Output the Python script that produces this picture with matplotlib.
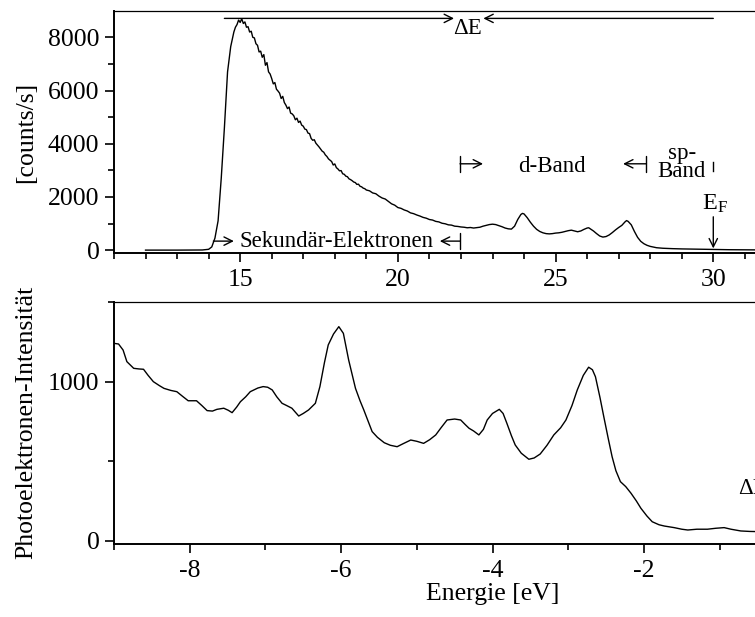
"""
Photoelectron spectrum: raw counts vs. kinetic energy (top) and the
valence band region referred to the Fermi level (bottom).
"""

import numpy as np
import matplotlib
matplotlib.use("Agg")
import matplotlib.pyplot as plt
from matplotlib.ticker import MultipleLocator

plt.rcParams["font.family"] = ["Liberation Serif", "DejaVu Serif"]
plt.rcParams["mathtext.fontset"] = "custom"
plt.rcParams["mathtext.rm"] = "Liberation Serif"
plt.rcParams["axes.unicode_minus"] = False

# ---------------------------------------------------------------------------
# Data
# ---------------------------------------------------------------------------
# full spectrum, kinetic energy (eV) vs counts/s
kin_energy = [
    12.0, 13.0, 13.8, 14.0, 14.1, 14.2, 14.3, 14.4, 14.5, 14.6, 14.7, 14.8, 14.85,
    14.90, 14.95, 15.00, 15.05, 15.10, 15.15, 15.20, 15.25, 15.30, 15.35, 15.40,
    15.45, 15.50, 15.55, 15.60, 15.65, 15.70, 15.75, 15.80, 15.85, 15.90, 15.95,
    16.00, 16.05, 16.10, 16.15, 16.20, 16.25, 16.30, 16.35, 16.40, 16.45, 16.50,
    16.55, 16.60, 16.65, 16.70, 16.75, 16.80, 16.85, 16.90, 16.95, 17.00, 17.05,
    17.10, 17.15, 17.20, 17.25, 17.30, 17.35, 17.40, 17.45, 17.50, 17.55, 17.60,
    17.65, 17.70, 17.75, 17.80, 17.85, 17.90, 17.95, 18.00, 18.05, 18.10, 18.15,
    18.20, 18.25, 18.30, 18.35, 18.40, 18.45, 18.50, 18.55, 18.60, 18.65, 18.70,
    18.75, 18.80, 18.85, 18.90, 18.95, 19.00,
    19.1, 19.2, 19.3, 19.4, 19.5, 19.6, 19.7, 19.8, 19.9, 20.0, 20.1, 20.2, 20.3,
    20.4, 20.5, 20.6, 20.7, 20.8, 20.9, 21.0, 21.1, 21.2, 21.3, 21.4, 21.5, 21.6,
    21.7, 21.8, 21.9, 22.0, 22.1, 22.2, 22.3, 22.4, 22.5, 22.6, 22.7, 22.8, 22.9,
    23.0, 23.1, 23.2, 23.3, 23.4, 23.5, 23.6, 23.7, 23.8, 23.9, 23.95, 24.0, 24.1,
    24.2, 24.3, 24.4, 24.5, 24.6, 24.7, 24.8, 24.9, 25.0, 25.1, 25.2, 25.3, 25.4,
    25.5, 25.6, 25.7, 25.8, 25.9, 26.0, 26.05, 26.1, 26.2, 26.3, 26.4, 26.5, 26.6,
    26.7, 26.8, 26.9, 27.0, 27.1, 27.2, 27.25, 27.3, 27.4, 27.5, 27.6, 27.7, 27.8,
    27.9, 28.0, 28.2, 28.4, 28.7, 29.0, 29.5, 30.0, 30.5, 31.0, 31.4,
]
counts = [
    0, 0, 5, 30, 120, 450, 1100, 2700, 4600, 6700, 7650, 8200, 8380,
    8480, 8650, 8560, 8700, 8520, 8580, 8380, 8400, 8200, 8230, 8000,
    7980, 7760, 7700, 7450, 7480, 7250, 7350, 6950, 7050, 6700, 6620,
    6450, 6250, 6300, 6050, 5980, 5900, 5700, 5780, 5550, 5450, 5320,
    5380, 5150, 5120, 5050, 4900, 4960, 4800, 4850, 4700, 4660, 4550,
    4530, 4400, 4380, 4200, 4130, 4150, 4020, 3950, 3880, 3800, 3720,
    3680, 3580, 3520, 3430, 3380, 3330, 3200, 3240, 3100, 3050, 2980,
    2990, 2870, 2850, 2780, 2760, 2680, 2650, 2610, 2560, 2540, 2470,
    2480, 2400, 2380, 2330, 2310, 2260,
    2230, 2150, 2120, 2030, 1960, 1920, 1830, 1740, 1690, 1600, 1570, 1510, 1470,
    1400, 1370, 1320, 1280, 1230, 1200, 1150, 1130, 1080, 1060, 1010, 990, 950,
    940, 900, 890, 870, 860, 840, 850, 830, 845, 860, 900, 930, 960,
    975, 960, 920, 880, 830, 800, 790, 900, 1150, 1340, 1380, 1360, 1220,
    1050, 900, 780, 700, 650, 620, 610, 620, 640, 650, 670, 700, 730,
    750, 720, 690, 720, 780, 830, 840, 800, 720, 620, 530, 490, 510,
    570, 660, 760, 850, 930, 1060, 1110, 1080, 950, 700, 480, 330, 240,
    180, 140, 90, 70, 55, 45, 35, 25, 15, 10, 8,
]

# valence band, energy relative to E_F (eV)
vb_energy = [
    -9.00, -8.94, -8.88, -8.83, -8.74, -8.67, -8.61, -8.55, -8.48, -8.40, -8.34,
    -8.25, -8.17, -8.10, -8.02, -7.91, -7.84, -7.77, -7.70, -7.64, -7.55, -7.49,
    -7.44, -7.38, -7.33, -7.26, -7.20, -7.10, -7.03, -6.97, -6.91, -6.85, -6.78,
    -6.72, -6.65, -6.56, -6.50, -6.43, -6.34, -6.28, -6.22, -6.17, -6.10, -6.03,
    -5.97, -5.90, -5.81, -5.75, -5.70, -5.65, -5.59, -5.52, -5.43, -5.35, -5.26,
    -5.18, -5.08, -5.00, -4.91, -4.83, -4.75, -4.68, -4.60, -4.50, -4.42, -4.36,
    -4.31, -4.25, -4.18, -4.12, -4.07, -4.00, -3.91, -3.86, -3.81, -3.75, -3.70,
    -3.62, -3.52, -3.45, -3.37, -3.28, -3.19, -3.10, -3.03, -2.95, -2.88, -2.80,
    -2.73, -2.68, -2.64, -2.58, -2.53, -2.47, -2.42, -2.37, -2.31, -2.24, -2.17,
    -2.10, -2.04, -1.96, -1.89, -1.80, -1.73, -1.60, -1.50, -1.42, -1.30, -1.16,
    -1.05, -0.94, -0.85, -0.72, -0.60, -0.50,
]
vb_intensity = [
    1241, 1237, 1199, 1126, 1084, 1080, 1078, 1040, 1000, 975, 958,
    945, 937, 910, 880, 880, 850, 818, 815, 826, 833, 820,
    805, 840, 874, 905, 937, 960, 969, 965, 948, 905, 864,
    850, 833, 784, 800, 822, 864, 969, 1120, 1231, 1300, 1346,
    1304, 1136, 958, 880, 822, 760, 686, 650, 616, 600, 591,
    610, 633, 625, 612, 635, 665, 710, 759, 765, 759, 730,
    707, 690, 665, 700, 759, 800, 826, 800, 738, 660, 602,
    550, 512, 520, 545, 600, 665, 710, 759, 850, 948, 1040,
    1091, 1075, 1031, 900, 780, 640, 528, 440, 371, 340, 298,
    250, 204, 155, 119, 100, 92, 82, 72, 67, 72, 72,
    78, 82, 72, 61, 58, 57,
]

# labelled tick positions (the rest of each axis runs off the canvas)
kin_ticks = [15, 20, 25, 30]
vb_ticks = [-8, -6, -4, -2]

# ---------------------------------------------------------------------------
# Figure
# ---------------------------------------------------------------------------
W, H = 755, 617
fig = plt.figure(figsize=(W / 100, H / 100), dpi=100)

# both panels run past the right edge of the canvas
ax1 = fig.add_axes([114 / W, 1 - 253.3 / H, 757 / W, 242.3 / H])
ax2 = fig.add_axes([114 / W, 1 - 544 / H, 757 / W, 242.3 / H])

TICK_FS = 18.5
NOTE_FS = 16.5

for ax in (ax1, ax2):
    ax.spines["right"].set_visible(False)
    for side in ("left", "bottom"):
        ax.spines[side].set_linewidth(1.4)
    ax.spines["top"].set_linewidth(0.9)
    ax.tick_params(which="both", direction="out", width=1.2,
                   labelsize=TICK_FS, top=False, right=False)
    ax.tick_params(which="major", length=6.5)
    ax.tick_params(which="minor", length=4.5)
    ax.tick_params(axis="x", pad=5)
    ax.tick_params(axis="y", pad=4)

# --- top: full spectrum ----------------------------------------------------
ax1.plot(kin_energy, counts, color="black", lw=1.0)
ax1.set_xlim(11, 35)
ax1.set_ylim(-120, 8990)
ax1.set_xticks(kin_ticks)
ax1.xaxis.set_minor_locator(MultipleLocator(1))
ax1.yaxis.set_major_locator(MultipleLocator(2000))
ax1.yaxis.set_minor_locator(MultipleLocator(1000))
ax1.set_ylabel("[counts/s]", fontsize=TICK_FS)
ax1.yaxis.set_label_coords(-0.102, 0.5)

arrow = dict(arrowstyle="->,head_length=0.4,head_width=0.2",
             color="black", lw=1.0, shrinkA=0, shrinkB=0, mutation_scale=15)
bar_arrow = dict(arrowstyle="]->,widthA=0.38,lengthA=0",
                 color="black", lw=1.0, shrinkA=0, shrinkB=0, mutation_scale=15)

# Delta E span from secondary cut-off to the Fermi edge
ax1.annotate("", xy=(21.78, 8712), xytext=(14.5, 8712), arrowprops=arrow)
ax1.annotate("", xy=(22.71, 8712), xytext=(30.0, 8712), arrowprops=arrow)
ax1.text(22.22, 8330, "ΔE", fontsize=NOTE_FS, ha="center", va="center")

# secondary electrons
ax1.annotate("", xy=(14.8, 338), xytext=(14.15, 338), arrowprops=arrow)
ax1.text(18.07, 338, "Sekundär-Elektronen", fontsize=NOTE_FS,
         ha="center", va="center")
ax1.annotate("", xy=(21.33, 338), xytext=(21.97, 338), arrowprops=bar_arrow)

# d-band and sp-band
ax1.annotate("", xy=(22.7, 3245), xytext=(21.97, 3245), arrowprops=bar_arrow)
ax1.text(24.89, 2944, "d-Band", fontsize=NOTE_FS, ha="center", va="baseline")
ax1.annotate("", xy=(27.14, 3245), xytext=(27.88, 3245), arrowprops=bar_arrow)
ax1.text(29.0, 2756, "sp-\nBand", fontsize=NOTE_FS, ha="center",
         va="baseline", multialignment="center", linespacing=0.78)
ax1.plot([30.0, 30.0], [2982, 3320], color="black", lw=1.0)

# Fermi level
ax1.text(30.05, 1504, r"$\mathrm{E_F}$", fontsize=NOTE_FS + 1, ha="center",
         va="baseline")
ax1.annotate("", xy=(30.0, 64), xytext=(30.0, 1252), arrowprops=arrow)

# --- bottom: valence band ----------------------------------------------------
ax2.plot(vb_energy, vb_intensity, color="black", lw=1.0)
ax2.set_xlim(-9, 1)
ax2.set_ylim(-21, 1503)
ax2.set_xticks(vb_ticks)
ax2.xaxis.set_minor_locator(MultipleLocator(1))
ax2.yaxis.set_major_locator(MultipleLocator(1000))
ax2.yaxis.set_minor_locator(MultipleLocator(500))
ax2.set_xlabel("Energie [eV]", fontsize=TICK_FS, labelpad=1)
ax2.set_ylabel("Photoelektronen-Intensität", fontsize=TICK_FS)
ax2.yaxis.set_label_coords(-0.102, 0.5)
ax2.text(-0.76, 330, "ΔE", fontsize=NOTE_FS, ha="left", va="center")

fig.savefig("out.png", dpi=100)
